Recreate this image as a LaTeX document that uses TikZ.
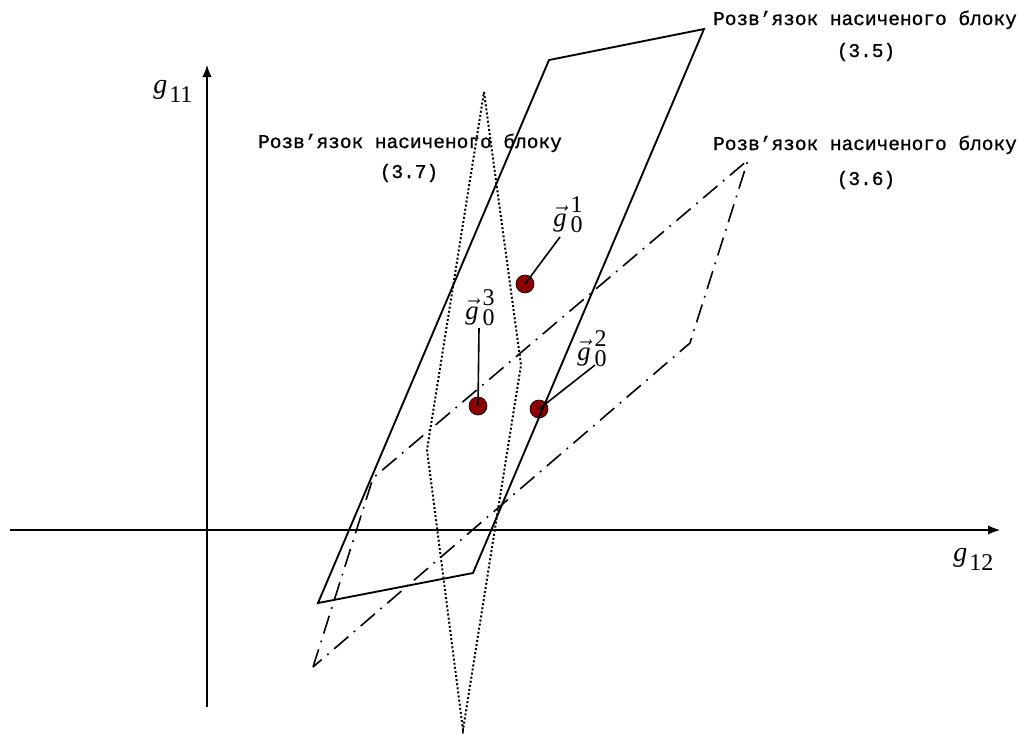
\documentclass[tikz,border=0pt]{standalone}
\usepackage{amsmath}
\usepackage{fontspec}
\setmainfont{Liberation Serif}
\newfontfamily\blockfont[FakeBold=1]{Liberation Mono}
\usepackage{tikz}
\usetikzlibrary{arrows.meta}

\definecolor{darkred}{RGB}{140,0,0}

\newcommand{\digitsize}{\fontsize{18}{18}\selectfont}
\newcommand{\gsub}[1]{\textit{g}\kern1.5pt\raisebox{-6.75pt}{\digitsize #1}}
\newcommand{\gvec}[1]{\ensuremath{\vec{\textit{g}}}\kern3pt\rlap{\raisebox{10pt}{\digitsize #1}}\raisebox{-4.5pt}{\digitsize 0}}

\begin{document}
\begin{tikzpicture}[x=0.75pt, y=-0.75pt,
  axis/.style={line width=0.8pt, -{Latex[length=9pt, width=7pt]}},
  solidblock/.style={line width=1.4pt, line join=miter},
  dashblock/.style={line width=1.2pt, dash pattern=on 14pt off 5.5pt on 1.3pt off 5.5pt},
  dotblock/.style={line width=1.5pt, dash pattern=on 1.5pt off 1.6pt},
  point/.style={circle, draw=black, line width=0.5pt, fill=darkred,
    minimum size=13.5pt, inner sep=0pt},
  pointer/.style={line width=1.2pt},
  caption/.style={font=\blockfont\fontsize{14.6}{17}\selectfont, anchor=base, inner sep=0pt},
  axislabel/.style={font=\fontsize{21}{21}\selectfont, anchor=base west, inner sep=0pt},
  veclabel/.style={font=\fontsize{20}{20}\selectfont, anchor=base west, inner sep=0pt},
]
  \useasboundingbox (0,0) rectangle (1027,733);

  % Axes
  \draw[axis] (10,530) -- (1000,530);
  \draw[axis] (207,707) -- (207,65);
  \node[axislabel] (g11) at (153,93) {\gsub{11}};
  \node[axislabel] (g12) at (953,561) {\gsub{12}};

  % Points
  \node[point] (dot1) at (525,284) {};
  \node[point] (dot2) at (539,409) {};
  \node[point] (dot3) at (478,406) {};

  % Saturated block solutions
  \draw[solidblock] (318,603) -- (473,573) -- (704,29) -- (549,60) -- cycle;
  \draw[dashblock] (313,667) -- (373,478) -- (748,160) -- (690,343) -- cycle;
  \draw[dotblock] (484,92) -- (521,365) -- (463,730) -- (427,450) -- cycle;

  % Point labels
  \node[veclabel] (lbl1) at (553,226) {\gvec{1}};
  \node[veclabel] (lbl2) at (577,360) {\gvec{2}};
  \node[veclabel] (lbl3) at (465,319) {\gvec{3}};
  \coordinate (end1) at (560,237);
  \coordinate (end2) at (595,365);
  \coordinate (end3) at (479,328);
  \draw[pointer] (dot1.center) -- (end1);
  \draw[pointer] (dot2.center) -- (end2);
  \draw[pointer] (dot3.center) -- (end3);

  % Captions
  \node[caption] (cap5) at (865,25) {Розв’язок насиченого блоку};
  \node[caption] (num5) at (866,57) {(3.5)};
  \node[caption] (cap6) at (865,150) {Розв’язок насиченого блоку};
  \node[caption] (num6) at (866,185) {(3.6)};
  \node[caption] (cap7) at (410,148) {Розв’язок насиченого блоку};
  \node[caption] (num7) at (409,178) {(3.7)};

\end{tikzpicture}
\end{document}
